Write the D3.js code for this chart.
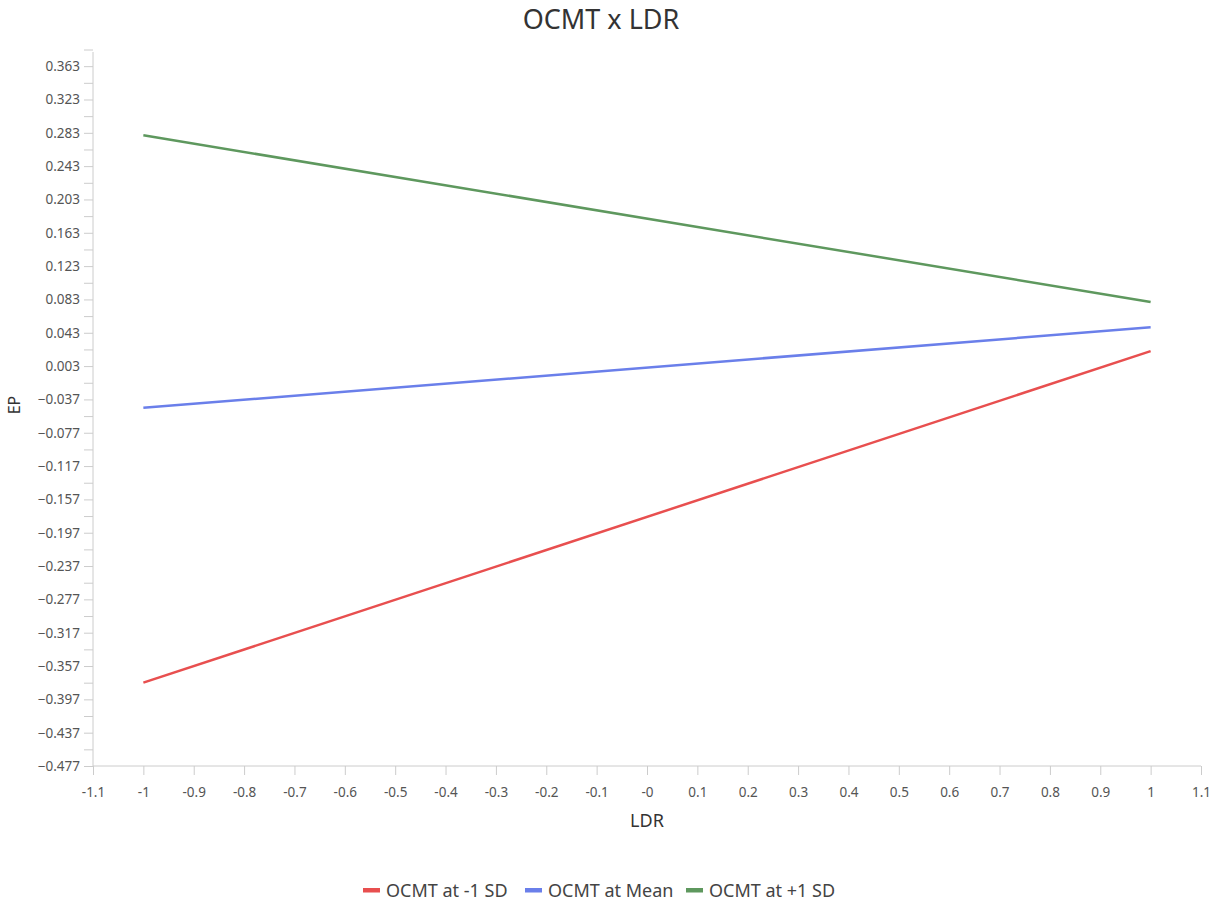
<!DOCTYPE html>
<html><head><meta charset="utf-8">
<script src="https://cdn.jsdelivr.net/npm/d3@7"></script>
<style>body{margin:0;background:#fff;font-family:"Noto Sans","Open Sans",sans-serif;}</style>
</head><body>
<svg id="c" width="1220" height="903"></svg>
<script>
const xValues = [-1, 1];
const seriesNames = ["OCMT at -1 SD", "OCMT at Mean", "OCMT at +1 SD"];
const seriesColors = ["#e84f4f", "#6a7fea", "#5e985e"];
const lowSD = [-0.377, 0.021];
const meanVals = [-0.047, 0.0495];
const highSD = [0.280, 0.080];
const yTickValues = [0.363,0.323,0.283,0.243,0.203,0.163,0.123,0.083,0.043,0.003,-0.037,-0.077,-0.117,-0.157,-0.197,-0.237,-0.277,-0.317,-0.357,-0.397,-0.437,-0.477];
const xTickValues = [-1.1,-1,-0.9,-0.8,-0.7,-0.6,-0.5,-0.4,-0.3,-0.2,-0.1,0,0.1,0.2,0.3,0.4,0.5,0.6,0.7,0.8,0.9,1,1.1];
const xLabels = ["-1.1","-1","-0.9","-0.8","-0.7","-0.6","-0.5","-0.4","-0.3","-0.2","-0.1","-0","0.1","0.2","0.3","0.4","0.5","0.6","0.7","0.8","0.9","1","1.1"];

const svg = d3.select("#c");
const x = d3.scaleLinear().domain([-1.1, 1.1]).range([93, 1201]);
const y = d3.scaleLinear().domain([-0.477, 0.38]).range([766, 52]);
const axisColor = "#cccccc", textColor = "#555";

// minor y ticks
const minor = yTickValues.map(v => v + 0.02);
const gy = svg.append("g").attr("transform","translate(93,0)")
  .call(d3.axisLeft(y).tickValues(yTickValues).tickFormat(d=>d3.format(".3f")(d)).tickSize(9).tickPadding(4));
gy.selectAll("text").style("font-size","13.5px").attr("fill",textColor).style("font-family","Noto Sans, sans-serif");
svg.append("g").attr("transform","translate(93,0)")
  .call(d3.axisLeft(y).tickValues(minor).tickFormat("").tickSize(9))
  .select(".domain").remove();
svg.selectAll(".tick line").attr("stroke",axisColor);
gy.select(".domain").attr("stroke",axisColor).attr("d","M-0,52V766");

const gx = svg.append("g").attr("transform","translate(0,766)")
  .call(d3.axisBottom(x).tickValues(xTickValues).tickFormat((d,i)=>xLabels[i]).tickSize(9).tickPadding(12));
gx.selectAll("text").style("font-size","13.5px").attr("fill",textColor).style("font-family","Noto Sans, sans-serif");
gx.selectAll(".tick line").attr("stroke",axisColor);
gx.select(".domain").attr("stroke",axisColor).attr("d","M93,0H1201");

// lines
const line = d3.line().x((d,i)=>x(xValues[i])).y(d=>y(d));
[lowSD, meanVals, highSD].forEach((s,k)=>{
  svg.append("path").datum(s).attr("d",line).attr("fill","none")
    .attr("stroke",seriesColors[k]).attr("stroke-width",2.5);
});

// title and labels
svg.append("text").attr("x",601).attr("y",29).attr("text-anchor","middle")
  .style("font-size","27px").attr("fill","#333").text("OCMT x LDR");
svg.append("text").attr("x",647).attr("y",827).attr("text-anchor","middle")
  .style("font-size","18px").attr("fill","#333").text("LDR");
svg.append("text").attr("transform","translate(20,405) rotate(-90)").attr("text-anchor","middle")
  .style("font-size","16px").attr("fill","#333").text("EP");

// legend
const legX = [363, 525, 686];
seriesNames.forEach((n,k)=>{
  const g = svg.append("g").attr("transform",`translate(${legX[k]},890)`);
  g.append("rect").attr("x",0).attr("y",-2).attr("width",17).attr("height",4.5).attr("fill",seriesColors[k]);
  g.append("text").attr("x",23).attr("y",6.5).style("font-size","18px").attr("fill","#444").text(n);
});
</script>
</body></html>
